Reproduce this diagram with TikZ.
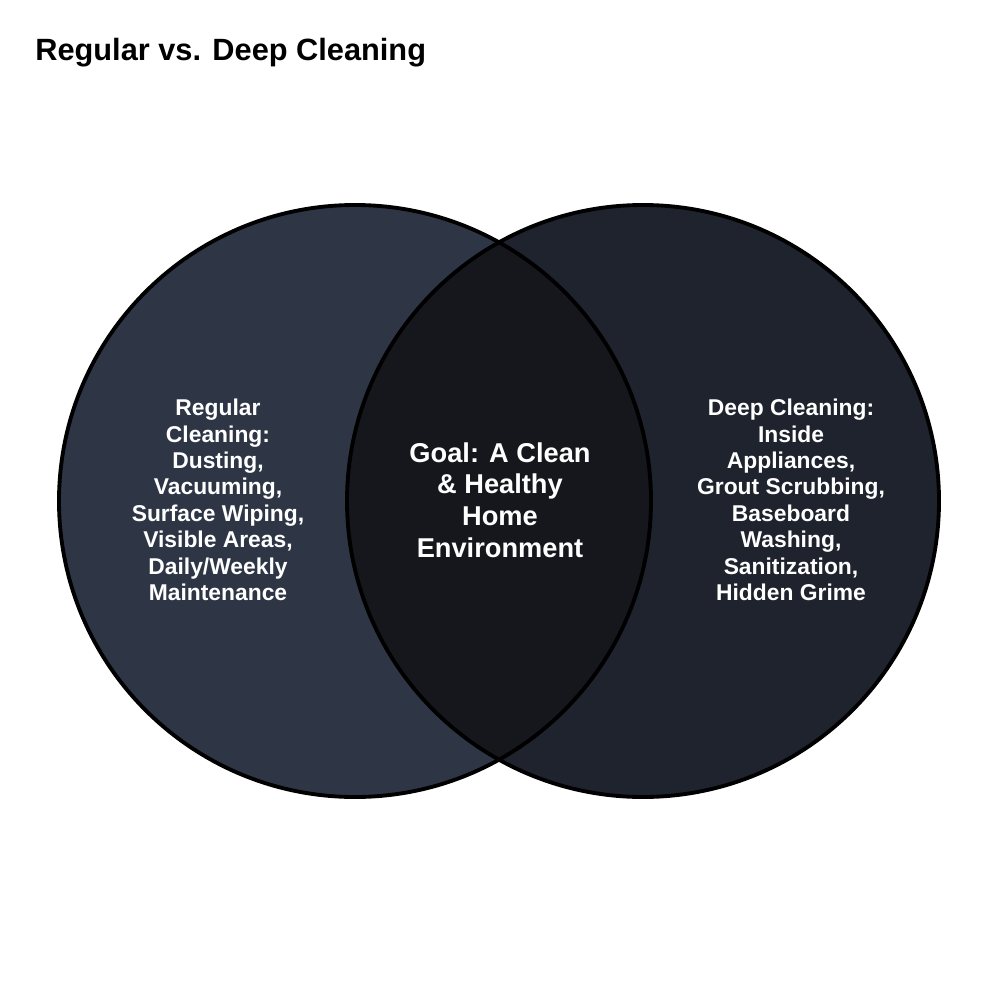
\documentclass[tikz,border=0pt]{standalone}
\usepackage{fontspec}
\setmainfont{Liberation Sans}
\definecolor{leftc}{HTML}{2E3646}
\definecolor{rightc}{HTML}{1F232D}
\definecolor{midc}{HTML}{16171C}
\begin{document}
\begin{tikzpicture}[x=0.02cm,y=-0.02cm,
  lab/.style={text=white,font=\bfseries\fontsize{13}{15}\selectfont,align=center},
  ring/.style={draw=black,line width=2.2pt}]
\useasboundingbox (0,0) rectangle (1000,1000);
\fill[white] (0,0) rectangle (1000,1000);
\node[anchor=west,inner sep=0pt,font=\bfseries\fontsize{17.5}{20}\selectfont] (title) at (35,53) {Regular vs. Deep Cleaning};
\fill[leftc] (355,501) circle[radius=296];
\fill[rightc] (643,501) circle[radius=296];
\begin{scope}
\clip (355,501) circle[radius=296];
\fill[midc] (643,501) circle[radius=296];
\end{scope}
\draw[ring] (355,501) circle[radius=296];
\draw[ring] (643,501) circle[radius=296];
\node[lab] (l) at (218,500) {Regular\\Cleaning:\\Dusting,\\Vacuuming,\\Surface Wiping,\\Visible Areas,\\Daily/Weekly\\Maintenance};
\node[lab] (r) at (791,500) {Deep Cleaning:\\Inside\\Appliances,\\Grout Scrubbing,\\Baseboard\\Washing,\\Sanitization,\\Hidden Grime};
\node[lab,font=\bfseries\fontsize{15.5}{18}\selectfont] (m) at (500,500) {Goal: A Clean\\\& Healthy\\Home\\Environment};
\end{tikzpicture}
\end{document}
